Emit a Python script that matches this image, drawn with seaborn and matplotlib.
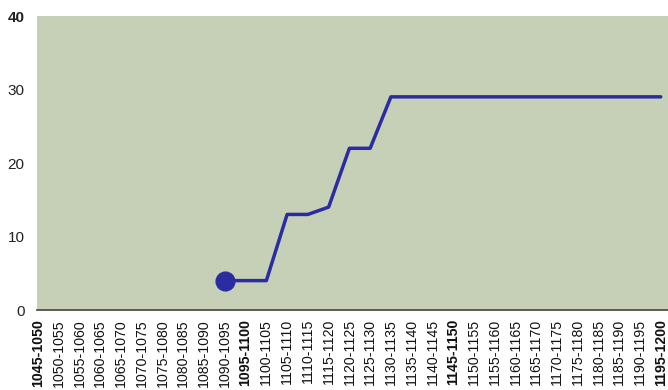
import numpy as np
import pandas as pd
import matplotlib
matplotlib.use("Agg")
import matplotlib.pyplot as plt
import seaborn as sns

periods = [f"{y}-{y + 5}" for y in range(1045, 1200, 5)]
counts = [None] * 9 + [4, 4, 4, 13, 13, 14, 22, 22] + [29] * 14
bold_labels = ["1045-1050", "1095-1100", "1145-1150", "1195-1200"]
y_ticks = [0, 10, 20, 30, 40]

df = pd.DataFrame({"pos": np.arange(len(periods)), "period": periods,
                   "count": pd.to_numeric(pd.Series(counts), errors="coerce")})
line_df = df.dropna()

sns.set_style("white")
plt.rcParams["font.family"] = ["Liberation Sans", "DejaVu Sans"]

fig = plt.figure(figsize=(6.68, 3.9), dpi=100)
ax = fig.add_axes([37 / 668, 80 / 390, 631 / 668, 294 / 390])
ax.set_facecolor("#c6d0b6")

sns.lineplot(data=line_df, x="pos", y="count", ax=ax, color="#2c2ca2",
             linewidth=2.5, legend=False)
first = line_df.iloc[0]
ax.plot(first["pos"], first["count"], "o", color="#2c2ca2", markersize=13.5)

ax.set_xlim(-0.05, 30.35)
ax.set_ylim(0, 40)
ax.set_xticks(df["pos"])
ax.set_xticklabels(periods, rotation=90, fontsize=10.2, color="#111111")
for lbl in ax.get_xticklabels():
    if lbl.get_text() in bold_labels:
        lbl.set_fontweight("bold")
ax.set_yticks(y_ticks)
ax.set_yticklabels([str(v) for v in y_ticks], fontsize=11, color="#222222")
ax.get_yticklabels()[-1].set_fontweight("bold")

ax.tick_params(axis="x", direction="inout", length=9, width=1, color="#444444", pad=2)
ax.tick_params(axis="y", direction="out", length=4, width=0.8, color="#cccccc", pad=5)
for side in ["top", "right", "left"]:
    ax.spines[side].set_visible(False)
ax.spines["bottom"].set_color("#444444")
ax.spines["bottom"].set_linewidth(1.2)
ax.set_xlabel("")
ax.set_ylabel("")

fig.savefig("out.png", dpi=100)
